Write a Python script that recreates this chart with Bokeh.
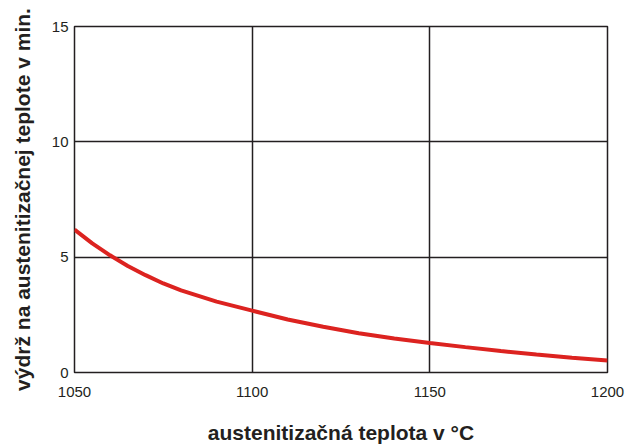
from bokeh.plotting import figure
from bokeh.models import Range1d, FixedTicker
from bokeh.embed import file_html
from bokeh.resources import INLINE

temp = [1050, 1055, 1060, 1065, 1070, 1075, 1080, 1090, 1100, 1110,
        1120, 1130, 1140, 1150, 1160, 1170, 1180, 1190, 1200]
hold_min = [6.2, 5.6, 5.08, 4.62, 4.22, 3.86, 3.56, 3.07, 2.68, 2.3,
            1.98, 1.7, 1.47, 1.28, 1.1, 0.93, 0.78, 0.64, 0.52]
x_ticks = [1050, 1100, 1150, 1200]
y_ticks = [0, 5, 10, 15]

p = figure(width=636, height=448, output_backend="svg", toolbar_location=None,
           x_range=Range1d(1050, 1200), y_range=Range1d(0, 15),
           min_border_left=74, min_border_top=26, min_border_right=29, min_border_bottom=76)

p.line(temp, hold_min, line_color="#dc2320", line_width=4)

for ax in (p.xaxis[0], p.yaxis[0]):
    ax.axis_line_color = None
    ax.major_tick_line_color = None
    ax.minor_tick_line_color = None
    ax.major_tick_out = 0
    ax.major_tick_in = 0
    ax.minor_tick_out = 0
    ax.minor_tick_in = 0
    ax.major_label_text_font = "Liberation Sans"
    ax.major_label_text_font_size = "15px"
    ax.major_label_text_color = "#231f20"
    ax.axis_label_text_font = "Liberation Sans"
    ax.axis_label_text_font_size = "21px"
    ax.axis_label_text_font_style = "bold"
    ax.axis_label_text_color = "#231f20"

p.xaxis.ticker = FixedTicker(ticks=x_ticks)
p.yaxis.ticker = FixedTicker(ticks=y_ticks)
p.xaxis.axis_label = "austenitizačná teplota v °C"
p.yaxis.axis_label = "výdrž na austenitizačnej teplote v min."
p.xaxis.major_label_standoff = 14
p.xaxis.axis_label_standoff = 21
p.yaxis.major_label_standoff = 6
p.yaxis.axis_label_standoff = 15

p.grid.grid_line_color = "#231f20"
p.grid.grid_line_width = 1.5
p.grid.grid_line_alpha = 1.0
p.outline_line_color = "#231f20"
p.outline_line_width = 1.5
p.outline_line_alpha = 1.0

open("out.html", "w").write(file_html(p, INLINE))
